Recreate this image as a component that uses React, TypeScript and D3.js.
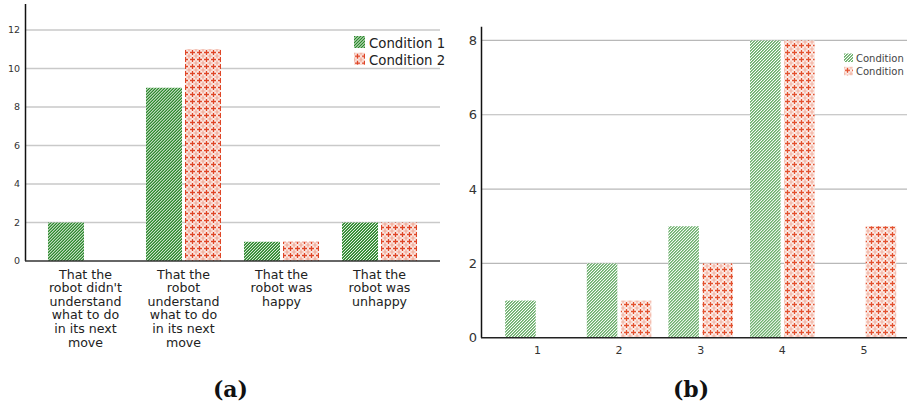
import React from "react";
import * as d3 from "d3";

// Panel (a): reasons given, per condition
const reasonLabels: string[][] = [
  ["That the", "robot didn't", "understand", "what to do", "in its next", "move"],
  ["That the", "robot", "understand", "what to do", "in its next", "move"],
  ["That the", "robot was", "happy"],
  ["That the", "robot was", "unhappy"],
];
const reasonCondition1 = [2, 9, 1, 2];
const reasonCondition2 = [0, 11, 1, 2];
const reasonTicks = [0, 2, 4, 6, 8, 10, 12];

// Panel (b): rating distribution, per condition
const ratingCategories = ["1", "2", "3", "4", "5"];
const ratingCondition1 = [1, 2, 3, 8, 0];
const ratingCondition2 = [0, 1, 2, 8, 3];
const ratingTicks = [0, 2, 4, 6, 8];

const seriesNames = ["Condition 1", "Condition 2"];
const FONT = "'DejaVu Sans', Verdana, sans-serif";

export default function App() {
  // ---- panel (a) scales ----
  const xA = d3
    .scaleBand<number>()
    .domain(reasonLabels.map((_, i) => i))
    .range([25, 440])
    .paddingInner(0)
    .paddingOuter(0.117);
  const subA = d3
    .scaleBand<number>()
    .domain([0, 1])
    .range([0, xA.bandwidth()])
    .paddingInner(0.077)
    .paddingOuter(0.295);
  const yA = d3.scaleLinear().domain([0, 13.35]).range([261, 4]);

  // ---- panel (b) scales ----
  const xB = d3
    .scaleBand<string>()
    .domain(ratingCategories)
    .range([481, 920.4])
    .paddingInner(0)
    .paddingOuter(0.192);
  const subB = d3
    .scaleBand<number>()
    .domain([0, 1])
    .range([0, xB.bandwidth()])
    .paddingInner(0.103)
    .paddingOuter(0.25);
  const yB = d3.scaleLinear().domain([0, 8.37]).range([337.7, 26.7]);

  const fillsA = ["url(#hatchDark)", "url(#crossA)"];
  const fillsB = ["url(#hatchLight)", "url(#crossB)"];

  const plus = (cx: number, cy: number) =>
    `M${cx} ${cy - 2.5}V${cy + 2.5}M${cx - 2.5} ${cy}H${cx + 2.5}`;

  const crossPattern = (id: string, bg: string, faint: string, strong: string) => (
    <pattern id={id} patternUnits="userSpaceOnUse" width={7} height={7}>
      <rect width={7} height={7} fill={bg} />
      {[0, 7].map((px) =>
        [0, 7].map((py) => (
          <path key={`${px}-${py}`} d={plus(px, py)} stroke={faint} strokeWidth={1.2} />
        ))
      )}
      <path d={plus(3.5, 3.5)} stroke={strong} strokeWidth={1.3} />
    </pattern>
  );

  return (
    <svg
      width={907}
      height={406}
      style={{ position: "absolute", left: 0, top: 0, background: "#fff" }}
      fontFamily={FONT}
    >
      <defs>
        <pattern id="hatchDark" patternUnits="userSpaceOnUse" width={2.12} height={10} patternTransform="rotate(45)">
          <rect width={2.12} height={10} fill="#ffffff" />
          <rect width={1.4} height={10} fill="#2b882b" />
        </pattern>
        <pattern id="hatchLight" patternUnits="userSpaceOnUse" width={2.12} height={10} patternTransform="rotate(45)">
          <rect width={2.12} height={10} fill="#ffffff" />
          <rect width={1.25} height={10} fill="#6aaf6a" />
        </pattern>
        {crossPattern("crossA", "#fcebe6", "#f0a592", "#df4526")}
        {crossPattern("crossB", "#fdf1ed", "#f2b09f", "#e3512f")}
      </defs>

      {/* ================= panel (a) ================= */}
      <g>
        {reasonTicks.map((t) => (
          <g key={t}>
            {t > 0 && (
              <line x1={25} x2={440} y1={yA(t)} y2={yA(t)} stroke="#c9c9c9" strokeWidth={1.5} />
            )}
            <text x={20} y={yA(t)} dy="0.35em" textAnchor="end" fontSize={9.5} fill="#333">
              {t}
            </text>
          </g>
        ))}
        {reasonLabels.map((_, i) =>
          [reasonCondition1[i], reasonCondition2[i]].map((v, s) =>
            v > 0 ? (
              <rect
                key={`a-${i}-${s}`}
                x={(xA(i) as number) + (subA(s) as number)}
                y={yA(v)}
                width={subA.bandwidth()}
                height={yA(0) - yA(v)}
                fill={fillsA[s]}
              />
            ) : null
          )
        )}
        <line x1={25.5} x2={25.5} y1={yA(13.35)} y2={yA(0)} stroke="#111" strokeWidth={1.5} />
        <line x1={25} x2={440} y1={yA(0)} y2={yA(0)} stroke="#333" strokeWidth={1.5} />
        {reasonLabels.map((lines, i) => (
          <text
            key={`al-${i}`}
            x={(xA(i) as number) + xA.bandwidth() / 2}
            y={278.5}
            textAnchor="middle"
            fontSize={12.6}
            fill="#222"
          >
            {lines.map((ln, k) => (
              <tspan key={k} x={(xA(i) as number) + xA.bandwidth() / 2} dy={k === 0 ? 0 : 13.6}>
                {ln}
              </tspan>
            ))}
          </text>
        ))}
        {seriesNames.map((name, s) => (
          <g key={`la-${s}`} transform={`translate(354, ${36 + s * 16.7})`}>
            <rect width={11} height={12} fill={fillsA[s]} />
            <text x={15} y={12} fontSize={13.3} fill="#222">
              {name}
            </text>
          </g>
        ))}
        <text
          x={230.5}
          y={397}
          textAnchor="middle"
          fontSize={22}
          fontWeight="bold"
          fontFamily="'DejaVu Serif', serif"
          fill="#111"
        >
          (a)
        </text>
      </g>

      {/* ================= panel (b) ================= */}
      <g>
        {ratingTicks.map((t) => (
          <g key={t}>
            {t > 0 && (
              <line x1={481} x2={907} y1={yB(t)} y2={yB(t)} stroke="#b8b8b8" strokeWidth={1.2} />
            )}
            <text x={477} y={yB(t)} dy="0.35em" textAnchor="end" fontSize={13} fill="#333">
              {t}
            </text>
          </g>
        ))}
        {ratingCategories.map((c, i) =>
          [ratingCondition1[i], ratingCondition2[i]].map((v, s) =>
            v > 0 ? (
              <rect
                key={`b-${i}-${s}`}
                x={(xB(c) as number) + (subB(s) as number)}
                y={yB(v)}
                width={subB.bandwidth()}
                height={yB(0) - yB(v)}
                fill={fillsB[s]}
              />
            ) : null
          )
        )}
        <line x1={481.5} x2={481.5} y1={yB(8.37)} y2={yB(0)} stroke="#111" strokeWidth={1.5} />
        <line x1={481} x2={907} y1={yB(0)} y2={yB(0)} stroke="#222" strokeWidth={1.5} />
        {ratingCategories.map((c) => (
          <text
            key={`bl-${c}`}
            x={(xB(c) as number) + xB.bandwidth() / 2}
            y={354}
            textAnchor="middle"
            fontSize={11}
            fill="#333"
          >
            {c}
          </text>
        ))}
        {/* legend of panel (b) runs off the right edge of the figure */}
        {seriesNames.map((name, s) => (
          <g key={`lb-${s}`} transform={`translate(844, ${53.5 + s * 13.3})`}>
            <rect width={9} height={8.5} fill={fillsB[s]} />
            <text x={12} y={8.5} fontSize={10} fill="#444">
              {name}
            </text>
          </g>
        ))}
        <text
          x={691}
          y={397}
          textAnchor="middle"
          fontSize={22}
          fontWeight="bold"
          fontFamily="'DejaVu Serif', serif"
          fill="#111"
        >
          (b)
        </text>
      </g>
    </svg>
  );
}
